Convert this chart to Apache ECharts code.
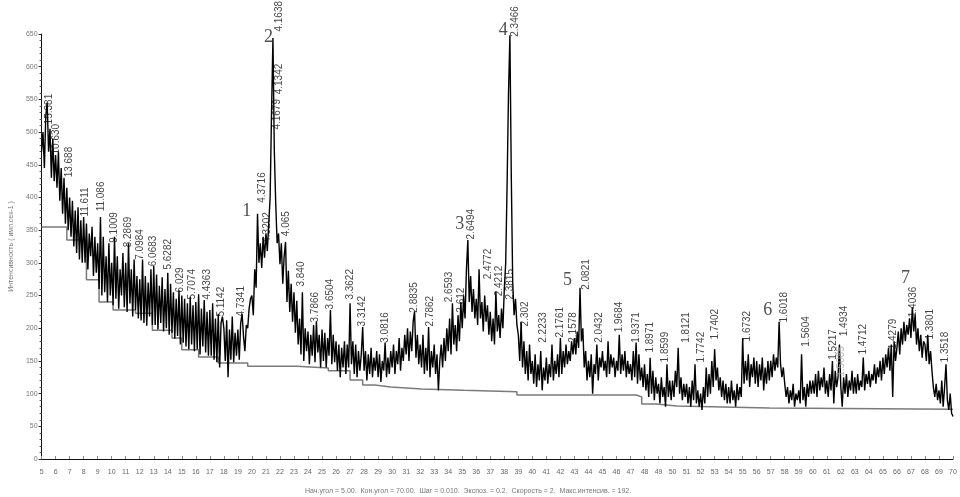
<!DOCTYPE html>
<html>
<head>
<meta charset="utf-8">
<title>Дифрактограмма</title>
<script src="https://cdn.jsdelivr.net/npm/echarts@6/dist/echarts.min.js"></script>
<style>
  html, body { margin: 0; padding: 0; background: #fff; }
  #chart { width: 960px; height: 497px; }
</style>
</head>
<body>
<div id="chart"></div>
<script>
// scan: 5..70 deg 2theta, one value per 0.1 deg
const angleStart = 5
const angleStep = 0.1
const intensity = [
  470, 500, 445, 525, 545, 470, 505, 430, 490, 425,   // 5
  465, 415, 470, 395, 445, 375, 430, 360, 415, 350,   // 6
  400, 340, 395, 325, 380, 315, 385, 305, 365, 300,   // 7
  370, 300, 360, 290, 345, 310, 355, 280, 340, 285,   // 8
  330, 260, 370, 250, 340, 255, 310, 240, 330, 250,   // 9
  300, 235, 340, 245, 310, 230, 290, 250, 315, 232,   // 10
  300, 225, 330, 238, 290, 218, 305, 228, 280, 215,   // 11
  275, 212, 305, 208, 280, 204, 270, 218, 290, 205,   // 12
  295, 205, 282, 198, 265, 208, 278, 195, 260, 200,   // 13
  285, 190, 268, 193, 255, 184, 245, 188, 258, 175,   // 14
  250, 178, 245, 172, 238, 168, 248, 175, 235, 165,   // 15
  240, 168, 252, 160, 230, 172, 243, 163, 225, 158,   // 16
  228, 158, 238, 152, 215, 148, 222, 140, 208, 218,   // 17
  200, 150, 212, 125, 198, 152, 218, 148, 193, 158,   // 18
  198, 152, 208, 222, 188, 165, 205, 200, 230, 245,   // 19
  250, 220, 290, 262, 375, 300, 330, 292, 340, 308,   // 20
  345, 318, 360, 400, 530, 644, 470, 390, 330, 345,   // 21
  298, 330, 268, 310, 332, 240, 288, 225, 268, 210,   // 22
  255, 193, 242, 175, 215, 160, 255, 150, 200, 165,   // 23
  195, 145, 190, 158, 205, 148, 210, 163, 190, 140,   // 24
  198, 150, 193, 140, 185, 158, 228, 145, 190, 148,   // 25
  180, 135, 175, 125, 170, 140, 180, 130, 175, 140,   // 26
  238, 145, 180, 130, 175, 125, 165, 135, 160, 202,   // 27
  135, 165, 120, 160, 130, 170, 125, 155, 135, 165,   // 28
  125, 160, 118, 150, 135, 178, 125, 155, 130, 165,   // 29
  140, 175, 130, 165, 145, 185, 135, 170, 150, 190,   // 30
  160, 200, 150, 195, 165, 210, 226, 155, 190, 145,   // 31
  175, 140, 190, 130, 170, 135, 202, 125, 165, 140,   // 32
  175, 130, 160, 105, 150, 175, 140, 185, 150, 200,   // 33
  165, 215, 160, 238, 175, 205, 165, 220, 180, 240,   // 34
  200, 250, 215, 290, 335, 240, 280, 225, 260, 215,   // 35
  245, 205, 290, 215, 240, 195, 250, 210, 235, 190,   // 36
  225, 180, 215, 175, 256, 195, 220, 185, 230, 200,   // 37
  260, 300, 420, 560, 648, 430, 270, 220, 245, 205,   // 38
  190, 150, 210, 140, 180, 130, 165, 120, 175, 130,   // 39
  150, 115, 160, 110, 145, 120, 165, 105, 140, 120,   // 40
  155, 115, 145, 125, 175, 120, 150, 130, 160, 125,   // 41
  185, 130, 165, 140, 175, 145, 165, 150, 180, 160,   // 42
  185, 160, 195, 170, 262, 180, 200, 140, 165, 120,   // 43
  150, 125, 160, 100, 145, 130, 175, 120, 155, 140,   // 44
  165, 135, 150, 125, 180, 130, 160, 140, 155, 125,   // 45
  150, 135, 190, 130, 160, 135, 165, 125, 150, 130,   // 46
  145, 120, 165, 125, 178, 115, 160, 120, 140, 110,   // 47
  145, 105, 130, 95, 155, 100, 135, 90, 125, 100,     // 48
  115, 85, 125, 95, 110, 80, 145, 95, 120, 90,        // 49
  120, 95, 135, 110, 170, 100, 125, 90, 115, 95,      // 50
  115, 85, 110, 80, 120, 90, 145, 85, 105, 80,        // 51
  100, 75, 110, 85, 140, 95, 130, 100, 150, 110,      // 52
  168, 120, 140, 105, 125, 95, 120, 90, 115, 85,      // 53
  110, 85, 120, 90, 105, 80, 115, 90, 110, 95,        // 54
  185, 115, 150, 120, 160, 110, 145, 125, 155, 115,   // 55
  150, 110, 145, 120, 155, 105, 140, 115, 150, 120,   // 56
  150, 125, 160, 135, 155, 140, 210, 145, 125, 140,   // 57
  115, 95, 110, 85, 105, 90, 115, 80, 100, 90,        // 58
  105, 85, 160, 90, 110, 80, 115, 95, 120, 100,       // 59
  120, 100, 130, 95, 135, 105, 125, 110, 140, 100,    // 60
  120, 95, 130, 105, 150, 85, 135, 110, 125, 175,     // 61
  110, 80, 125, 100, 130, 95, 120, 105, 135, 100,     // 62
  125, 100, 130, 105, 120, 110, 155, 105, 130, 115,   // 63
  135, 110, 130, 120, 145, 115, 140, 125, 150, 120,   // 64
  155, 130, 160, 140, 170, 135, 175, 95, 180, 150,    // 65
  170, 195, 160, 200, 175, 210, 180, 205, 190, 215,   // 66
  185, 232, 195, 220, 175, 200, 165, 190, 155, 180,   // 67
  175, 150, 190, 145, 165, 135, 110, 95, 115, 90,     // 68
  105, 85, 120, 80, 110, 145, 90, 75, 100, 70,        // 69
  65                                                  // 70
]

// stepped background line
const baseAngles = [5, 6.8, 8.2, 9.1, 10.1, 11.7, 12.9, 14.3, 15.0, 16.2, 17.6, 19.7, 23.2, 25.45, 27.0, 27.9,
  28.75, 29.9, 32.1, 35.1, 38.9, 47.4, 47.8, 48.85, 50.3, 56.9, 70]
const baseLevels = [355, 335, 274, 240, 228, 223, 197, 185, 167, 156, 147, 142, 139, 135, 121, 113,
  110, 107, 105, 103, 98, 95, 84, 81, 78, 76, 76]

// d-spacing labels: angle, intensity at the foot of the text, text
const dLabels = [
  [5.56, 511, '15.381'], [6.06, 465, '10.630'], [7.04, 430, '13.688'], [8.17, 370, '11.611'],
  [9.29, 378, '11.086'], [10.21, 330, '9.1009'], [11.19, 323, '8.2869'], [12.1, 304, '7.0984'],
  [13.02, 294, '6.0683'], [14.07, 289, '5.6282'], [14.92, 254, '6.029'], [15.76, 243, '5.7074'],
  [16.82, 243, '4.4363'], [17.87, 217, '5.1142'], [19.28, 217, '4.7341'], [20.76, 391, '4.3716'],
  [21.11, 330, '4.3202'], [21.81, 503, '4.1679'], [22.02, 557, '4.1342'], [22.02, 653, '4.1638'],
  [22.45, 340, '4.065'], [23.57, 263, '3.840'], [24.56, 208, '3.7866'], [25.61, 228, '3.6504'],
  [27.02, 243, '3.3622'], [27.93, 202, '3.3142'], [29.55, 177, '3.0816'], [31.59, 223, '2.8835'],
  [32.72, 202, '2.7862'], [34.12, 239, '2.6593'], [34.97, 223, '2.612'], [35.67, 335, '2.6494'],
  [36.87, 274, '2.4772'], [37.64, 248, '2.4212'], [38.84, 645, '2.3466'], [38.49, 243, '2.3815'],
  [39.54, 202, '2.302'], [40.81, 177, '2.2233'], [42.0, 185, '2.1761'], [42.92, 177, '2.1578'],
  [43.9, 258, '2.0821'], [44.82, 177, '2.0432'], [46.22, 193, '1.9684'], [47.42, 177, '1.9371'],
  [48.48, 162, '1.8971'], [49.53, 147, '1.8599'], [51.01, 177, '1.8121'], [52.06, 147, '1.7742'],
  [53.05, 182, '1.7402'], [55.37, 179, '1.6732'], [57.97, 208, '1.6018'], [59.59, 171, '1.5604'],
  [61.49, 151, '1.5217'], [62.26, 187, '1.4934'], [63.67, 159, '1.4712'], [65.78, 167, '1.4279'],
  [67.19, 216, '1.4036'], [68.38, 182, '1.3801'], [69.51, 147, '1.3518']
]
const fadedLabel = [[62.05, 125, '1.5085']]

// phase peak numbers
const peakNumbers = ['1', '2', '3', '4', '5', '6', '7']
const peakNumAngles = [19.63, 21.18, 34.83, 37.92, 42.5, 56.78, 66.62]
const peakNumLevels = [379, 645, 359, 655, 274, 228, 277]

const footer = 'Нач.угол = 5.00.  Кон.угол = 70.00.  Шаг = 0.010.  Экспоз. = 0.2.  Скорость = 2.  Макс.интенсив. = 192.'

const scan = intensity.map((v, i) => [+(angleStart + i * angleStep).toFixed(1), v])
const baseline = baseAngles.map((a, i) => [a, baseLevels[i]])

const chart = echarts.init(document.getElementById('chart'))

const dLabelSeries = (data, color) => ({
  type: 'scatter',
  data: data,
  symbolSize: 1,
  clip: false,
  silent: true,
  z: 5,
  itemStyle: { color: 'transparent' },
  label: {
    show: true,
    position: [0, 0],
    rotate: 90,
    align: 'left',
    verticalAlign: 'middle',
    fontSize: 10,
    fontFamily: 'Liberation Sans, Arial, sans-serif',
    color: color,
    formatter: p => p.value[2]
  }
})

chart.setOption({
  animation: false,
  backgroundColor: '#fff',
  title: {
    text: footer,
    left: 300,
    top: 483,
    textStyle: { fontSize: 7, fontWeight: 'normal', color: '#777', fontFamily: 'Liberation Sans, Arial, sans-serif' }
  },
  grid: { left: 30, right: 7, top: 34, bottom: 38 },
  xAxis: {
    type: 'value',
    min: 5,
    max: 70,
    interval: 1,
    axisLine: { lineStyle: { color: '#111', width: 1 } },
    axisTick: { inside: true, length: 3, lineStyle: { color: '#888' } },
    axisLabel: { fontSize: 7, color: '#666', margin: 10, fontFamily: 'Liberation Sans, Arial, sans-serif' },
    splitLine: { show: false }
  },
  yAxis: {
    type: 'value',
    min: 0,
    max: 650,
    interval: 50,
    name: 'Интенсивность ( имп.сек-1 )',
    nameLocation: 'middle',
    nameGap: 21,
    nameRotate: 90,
    nameTextStyle: { fontSize: 7, color: '#777', fontFamily: 'Liberation Sans, Arial, sans-serif' },
    axisLine: { show: true, lineStyle: { color: '#111', width: 1 } },
    axisTick: { show: true, length: 3, lineStyle: { color: '#333' } },
    minorTick: { show: true, splitNumber: 5, length: 2, lineStyle: { color: '#555' } },
    axisLabel: { fontSize: 7, color: '#777', margin: 4, fontFamily: 'Liberation Sans, Arial, sans-serif' },
    splitLine: { show: false }
  },
  series: [
    {
      type: 'line',
      data: baseline,
      step: 'end',
      showSymbol: false,
      silent: true,
      z: 1,
      lineStyle: { color: '#7a7a7a', width: 1.5 }
    },
    {
      type: 'line',
      data: scan,
      showSymbol: false,
      sampling: null,
      silent: true,
      z: 2,
      lineStyle: { color: '#000', width: 1.4 }
    },
    dLabelSeries(dLabels, '#111'),
    dLabelSeries(fadedLabel, '#aaa'),
    {
      type: 'scatter',
      data: peakNumbers.map((n, i) => [peakNumAngles[i], peakNumLevels[i], n]),
      symbolSize: 1,
      clip: false,
      silent: true,
      z: 6,
      itemStyle: { color: 'transparent' },
      label: {
        show: true,
        position: 'inside',
        fontSize: 18,
        fontFamily: 'Liberation Serif, Times New Roman, serif',
        color: '#222',
        formatter: p => p.value[2]
      }
    }
  ]
})
</script>
</body>
</html>
